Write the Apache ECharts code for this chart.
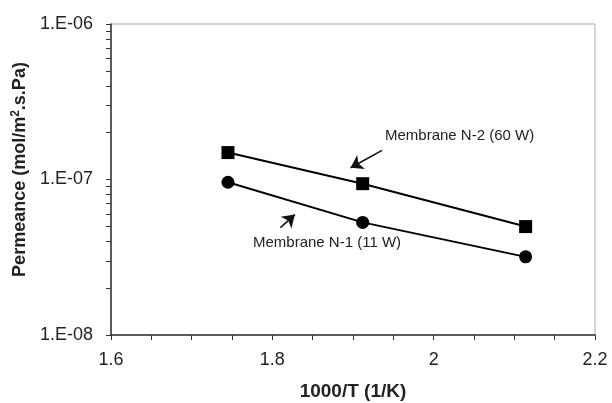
<!DOCTYPE html>
<html>
<head>
<meta charset="utf-8">
<script src="https://cdn.jsdelivr.net/npm/echarts@6/dist/echarts.min.js"></script>
<style>
  html, body { margin: 0; padding: 0; background: #fff; }
  #chart { width: 612px; height: 403px; }
</style>
</head>
<body>
<div id="chart"></div>
<script>
// 1000/T values (T = 573, 523, 473 K)
var invTemp = [1.745, 1.912, 2.114];
// permeance, mol/m2.s.Pa
var membraneN2 = [1.49e-7, 9.4e-8, 4.98e-8];
var membraneN1 = [9.6e-8, 5.3e-8, 3.18e-8];

var yMajor = [1e-8, 1e-7, 1e-6];
var yTicks = [1e-8, 2e-8, 3e-8, 4e-8, 5e-8, 6e-8, 7e-8, 8e-8, 9e-8,
              1e-7, 2e-7, 3e-7, 4e-7, 5e-7, 6e-7, 7e-7, 8e-7, 9e-7, 1e-6];

// arrow annotations, [x, y] in data space
var arrowN2 = [[1.936, 1.54e-7], [1.897, 1.19e-7]];
var arrowN1 = [[1.810, 4.9e-8], [1.828, 5.95e-8]];

function pairs(xs, ys) {
  return xs.map(function (x, i) { return [x, ys[i]]; });
}

function arrowLine(a) {
  return {
    silent: true,
    animation: false,
    symbol: ['none', 'arrow'],
    symbolSize: 12,
    label: { show: false },
    emphasis: { disabled: true },
    lineStyle: { color: '#111', width: 1.6, type: 'solid' },
    itemStyle: { color: '#111' },
    data: [[{ coord: a[0] }, { coord: a[1] }]]
  };
}

var chart = echarts.init(document.getElementById('chart'));
var font = '"Liberation Sans", Arial, sans-serif';

chart.setOption({
  animation: false,
  backgroundColor: '#fff',
  textStyle: { fontFamily: font },
  grid: {
    left: 111, right: 17, top: 24, bottom: 68,
    outerBoundsMode: 'none',
    show: true, borderColor: '#aaa', borderWidth: 1
  },
  xAxis: {
    type: 'value',
    min: 1.6, max: 2.2, interval: 0.2,
    name: '1000/T (1/K)',
    nameLocation: 'middle',
    nameGap: 47,
    nameTextStyle: { fontSize: 19, fontWeight: 'bold', color: '#222', fontFamily: font },
    axisLine: { lineStyle: { color: '#333', width: 1.5 } },
    axisTick: { show: true, length: 5, lineStyle: { color: '#333' } },
    minorTick: { show: true, splitNumber: 4, length: 5, lineStyle: { color: '#333' } },
    splitLine: { show: false },
    axisLabel: {
      fontSize: 18, color: '#222', margin: 16,
      formatter: function (v) { return String(Math.round(v * 10) / 10); }
    }
  },
  yAxis: [
    {
      type: 'log',
      logBase: 10,
      min: 1e-8, max: 1e-6,
      name: '{b|Permeance (mol/m}{s|2}{b|.s.Pa)}',
      nameLocation: 'middle',
      nameGap: 76,
      nameTextStyle: {
        padding: [0, 0, 0, 20],
        rich: {
          b: { fontSize: 18, fontWeight: 'bold', color: '#222', fontFamily: font },
          s: { fontSize: 12, fontWeight: 'bold', color: '#222', fontFamily: font, verticalAlign: 'top', padding: [0, 0, 9, 0] }
        }
      },
      axisLine: { show: true, lineStyle: { color: '#333', width: 1.5 } },
      axisTick: { show: true, length: 5, lineStyle: { color: '#333' } },
      splitLine: { show: false },
      axisLabel: {
        fontSize: 18, color: '#222', margin: 18,
        formatter: function (v) {
          var e = Math.round(Math.log10(v));
          return '1.E-' + String(-e).padStart(2, '0');
        }
      }
    },
    {
      // tick-only axis carrying the 2..9 log minor ticks
      type: 'value',
      position: 'left',
      min: Math.log10(yMajor[0]), max: Math.log10(yMajor[2]),
      axisLine: { show: false },
      axisLabel: { show: false },
      splitLine: { show: false },
      axisTick: { show: true, length: 5, customValues: yTicks.map(Math.log10), lineStyle: { color: '#333' } }
    }
  ],
  series: [
    {
      name: 'Membrane N-2 (60 W)',
      type: 'line',
      data: pairs(invTemp, membraneN2),
      symbol: 'rect',
      symbolSize: 13,
      itemStyle: { color: '#000' },
      lineStyle: { color: '#000', width: 2 },
      markLine: arrowLine(arrowN2)
    },
    {
      name: 'Membrane N-1 (11 W)',
      type: 'line',
      data: pairs(invTemp, membraneN1),
      symbol: 'circle',
      symbolSize: 13,
      itemStyle: { color: '#000' },
      lineStyle: { color: '#000', width: 2 },
      markLine: arrowLine(arrowN1)
    }
  ],
  graphic: [
    {
      type: 'text', left: 385, top: 128,
      style: { text: 'Membrane N-2 (60 W)', fontSize: 15, fill: '#222', fontFamily: font }
    },
    {
      type: 'text', left: 253, top: 235,
      style: { text: 'Membrane N-1 (11 W)', fontSize: 15, fill: '#222', fontFamily: font }
    }
  ]
});
</script>
</body>
</html>
